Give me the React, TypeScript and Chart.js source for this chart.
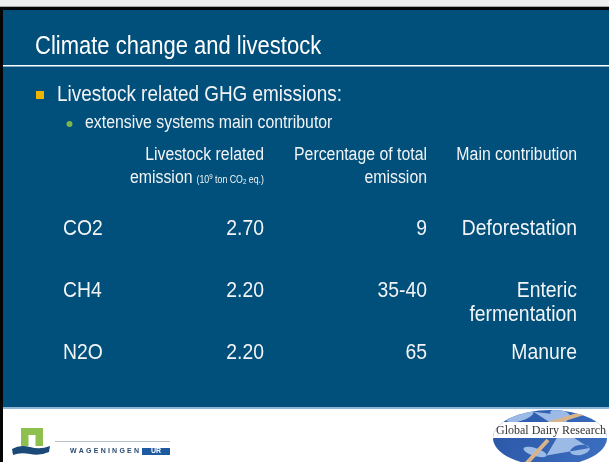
import React, { useEffect, useRef } from "react";
import { Chart, registerables } from "chart.js";

Chart.register(...registerables);

// ---------- data ----------
const slideTitle = "Climate change and livestock";
const bulletMain = "Livestock related GHG emissions:";
const bulletSub = "extensive systems main contributor";
const gases = ["CO2", "CH4", "N2O"];
const emissions = [2.7, 2.2, 2.2];
const percentages = ["9", "35-40", "65"];
const contributions = [["Deforestation"], ["Enteric", "fermentation"], ["Manure"]];
const columnKeys = ["emission", "percentage", "contribution"];
const headerEmission = ["Livestock related", "emission"];
const headerPercentage = ["Percentage of total", "emission"];
const headerContribution = ["Main contribution"];
const footerLeft = "WAGENINGEN";
const footerLeftTag = "UR";
const footerRight = "Global Dairy Research";

// ---------- style ----------
const W = 609;
const H = 462;
const BLUE = "#014f7b";
const TEXT = "#f2f4f6";
const SX = 0.88;
const FONT = '"Liberation Sans", Arial, sans-serif';
const colOffsets = [82.5, 82.5, 69.5];

function txt(
  ctx: CanvasRenderingContext2D,
  s: string,
  x: number,
  y: number,
  size: number,
  align: "left" | "right" | "center",
  color: string,
  sx: number = SX,
  font: string = FONT,
  weight: string = ""
) {
  ctx.save();
  ctx.font = `${weight} ${size}px ${font}`;
  ctx.fillStyle = color;
  ctx.textBaseline = "middle";
  ctx.textAlign = "left";
  const w = ctx.measureText(s).width * sx;
  const left = align === "right" ? x - w : align === "center" ? x - w / 2 : x;
  ctx.translate(left, y);
  ctx.scale(sx, 1);
  ctx.fillText(s, 0, 0);
  ctx.restore();
  return w;
}

function measure(ctx: CanvasRenderingContext2D, s: string, size: number, sx: number = SX) {
  ctx.save();
  ctx.font = `${size}px ${FONT}`;
  const w = ctx.measureText(s).width * sx;
  ctx.restore();
  return w;
}

const slidePlugin = {
  id: "slide",
  beforeDraw(chart: any) {
    const ctx: CanvasRenderingContext2D = chart.ctx;
    ctx.save();
    // page background
    ctx.fillStyle = "#ffffff";
    ctx.fillRect(0, 0, W, H);
    ctx.fillStyle = "#eeeeee";
    ctx.fillRect(0, 0, W, 6);
    ctx.fillStyle = "#a8a8a8";
    ctx.fillRect(0, 6, W, 1);
    ctx.fillStyle = "#050505";
    ctx.fillRect(0, 7, W, 3);
    // blue panel
    ctx.fillStyle = BLUE;
    ctx.fillRect(0, 10, W, 397);
    ctx.fillStyle = "#8fb6d6";
    ctx.fillRect(0, 407, W, 2);
    // left border
    ctx.fillStyle = "#050505";
    ctx.fillRect(0, 7, 3, H - 7);

    // title
    txt(ctx, slideTitle, 35, 47.5, 25, "left", "#ffffff");
    ctx.fillStyle = "#ffffff";
    ctx.fillRect(3, 65, W - 3, 1.5);

    // bullets
    ctx.fillStyle = "#f0b400";
    ctx.fillRect(36, 91, 8, 8);
    txt(ctx, bulletMain, 57, 95.5, 21.5, "left", TEXT);
    ctx.fillStyle = "#7cb548";
    ctx.beginPath();
    ctx.arc(69.5, 124, 3, 0, Math.PI * 2);
    ctx.fill();
    txt(ctx, bulletSub, 85, 123.5, 18, "left", TEXT);

    // footer: Wageningen logo
    ctx.fillStyle = "#8dc04f";
    ctx.fillRect(21, 428, 22, 18);
    ctx.fillStyle = "#ffffff";
    ctx.fillRect(28.5, 435, 7, 11);
    ctx.fillStyle = "#1b4a78";
    ctx.beginPath();
    ctx.moveTo(12, 449);
    ctx.quadraticCurveTo(20, 444, 30, 447);
    ctx.quadraticCurveTo(40, 450, 50, 446);
    ctx.lineTo(49, 452);
    ctx.quadraticCurveTo(40, 456, 30, 454);
    ctx.quadraticCurveTo(20, 452, 13, 455);
    ctx.closePath();
    ctx.fill();
    ctx.fillStyle = "#b8c0c8";
    ctx.fillRect(55, 441, 115, 1);
    ctx.save();
    ctx.font = `bold 7px ${FONT}`;
    ctx.fillStyle = "#2a4a70";
    ctx.textBaseline = "middle";
    const chars = footerLeft.split("");
    const widths = chars.map((c) => ctx.measureText(c).width);
    const sum = widths.reduce((a, b) => a + b, 0);
    const gap = (69 - sum) / (chars.length - 1);
    let lx = 70;
    chars.forEach((ch, i) => {
      ctx.fillText(ch, lx, 451.5);
      lx += widths[i] + gap;
    });
    ctx.restore();
    ctx.fillStyle = "#1d5aa0";
    ctx.fillRect(142, 448, 28, 7);
    txt(ctx, footerLeftTag, 156, 451.5, 7, "center", "#ffffff", 1, FONT, "bold");

    // footer: globe logo
    ctx.save();
    ctx.beginPath();
    ctx.ellipse(550, 438, 57, 28, 0, 0, Math.PI * 2);
    ctx.clip();
    const g = ctx.createLinearGradient(493, 410, 607, 462);
    g.addColorStop(0, "#2b56a6");
    g.addColorStop(1, "#3c6fc0");
    ctx.fillStyle = g;
    ctx.fillRect(490, 405, 120, 60);
    ctx.fillStyle = "#9bbbe6";
    ctx.beginPath();
    ctx.ellipse(520, 416, 14, 5, -0.3, 0, Math.PI * 2);
    ctx.ellipse(560, 414, 10, 4, 0.2, 0, Math.PI * 2);
    ctx.ellipse(535, 452, 12, 4, 0.3, 0, Math.PI * 2);
    ctx.ellipse(580, 450, 10, 5, -0.2, 0, Math.PI * 2);
    ctx.fill();
    ctx.strokeStyle = "#d9b48a";
    ctx.lineWidth = 4;
    ctx.beginPath();
    ctx.moveTo(600, 408);
    ctx.lineTo(548, 424);
    ctx.moveTo(548, 440);
    ctx.lineTo(526, 464);
    ctx.stroke();
    ctx.fillStyle = "#ffffff";
    ctx.fillRect(490, 422, 120, 16);
    ctx.restore();
    txt(ctx, footerRight, 551, 430.5, 12, "center", "#333333", 1, '"Liberation Serif", "Times New Roman", serif');

    ctx.restore();
  },
  afterDatasetsDraw(chart: any) {
    const ctx: CanvasRenderingContext2D = chart.ctx;
    const area = chart.chartArea;
    const xs = chart.scales.x;
    const ys = chart.scales.y;

    // column headers
    const h1y = area.top - 43;
    const h2y = area.top - 20;
    const c0 = xs.getPixelForValue(0) + colOffsets[0];
    const c1 = xs.getPixelForValue(1) + colOffsets[1];
    const c2 = xs.getPixelForValue(2) + colOffsets[2];
    txt(ctx, headerEmission[0], c0, h1y, 18, "right", TEXT);
    // second line with small unit text
    const parts = [
      { t: "(10", s: 10, dy: 0 },
      { t: "9", s: 7, dy: -3 },
      { t: " ton CO", s: 10, dy: 0 },
      { t: "2", s: 7, dy: 2.5 },
      { t: " eq.)", s: 10, dy: 0 },
    ];
    const total = parts.reduce((a, p) => a + measure(ctx, p.t, p.s), 0);
    let px = c0 - total;
    for (const p of parts) {
      px += txt(ctx, p.t, px, h2y + 2 + p.dy, p.s, "left", TEXT);
    }
    txt(ctx, headerEmission[1], c0 - total - 4, h2y, 18, "right", TEXT);
    txt(ctx, headerPercentage[0], c1, h1y, 18, "right", TEXT);
    txt(ctx, headerPercentage[1], c1, h2y, 18, "right", TEXT);
    txt(ctx, headerContribution[0], c2, h1y, 18, "right", TEXT);

    // row labels
    gases.forEach((g, i) => {
      txt(ctx, g, area.left - 37, ys.getPixelForValue(i), 22, "left", TEXT);
    });

    // cells
    chart.data.datasets.forEach((ds: any, di: number) => {
      const meta = chart.getDatasetMeta(di);
      meta.data.forEach((pt: any, i: number) => {
        const lines: string[] = ds.cellText[i];
        lines.forEach((line, li) => {
          txt(ctx, line, pt.x + colOffsets[di], pt.y + li * 24, 22, "right", TEXT);
        });
      });
    });
  },
};

export default function App() {
  const ref = useRef<HTMLCanvasElement | null>(null);
  useEffect(() => {
    if (!ref.current) return;
    const cellTexts = [
      emissions.map((v) => [v.toFixed(2)]),
      percentages.map((v) => [v]),
      contributions,
    ];
    const chart = new Chart(ref.current, {
      type: "scatter",
      data: {
        datasets: columnKeys.map((key, di) => ({
          label: key,
          data: gases.map((g) => ({ x: key, y: g })) as any,
          pointRadius: 0,
          cellText: cellTexts[di],
        })) as any,
      },
      options: {
        responsive: false,
        animation: false,
        events: [],
        layout: { padding: { left: 100, right: 20, top: 198, bottom: 78 } },
        scales: {
          x: { type: "category", labels: columnKeys, offset: true, display: false },
          y: { type: "category", labels: gases, offset: true, display: false },
        },
        plugins: { legend: { display: false }, tooltip: { enabled: false } },
      },
      plugins: [slidePlugin],
    });
    return () => chart.destroy();
  }, []);
  return (
    <div style={{ position: "absolute", left: 0, top: 0, width: W, height: H }}>
      <canvas ref={ref} width={W} height={H} />
    </div>
  );
}
